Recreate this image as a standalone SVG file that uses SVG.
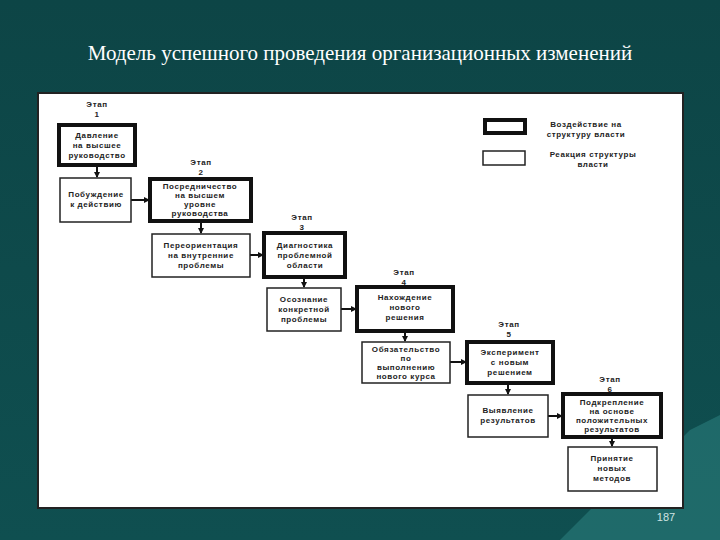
<svg xmlns="http://www.w3.org/2000/svg" width="720" height="540" viewBox="0 0 720 540">
<defs>
<linearGradient id="bg" x1="0" y1="0" x2="0" y2="1"><stop offset="0" stop-color="#0d4546"/><stop offset="1" stop-color="#0f4f50"/></linearGradient>
<marker id="ah" markerWidth="6" markerHeight="6" refX="5" refY="3" orient="auto" markerUnits="userSpaceOnUse"><path d="M0,0 L6,3 L0,6 Z" fill="#111"/></marker>
<style>
.thick{fill:#fff;stroke:#111;stroke-width:4}
.thin{fill:#fff;stroke:#222;stroke-width:1.5}
.t{font-family:"Liberation Sans",Arial,sans-serif;font-size:8px;font-weight:bold;fill:#222;text-anchor:middle;letter-spacing:0.6px}
.c{stroke:#111;stroke-width:2;fill:none;marker-end:url(#ah)}
</style>
</defs>
<rect width="720" height="540" fill="url(#bg)"/>
<path d="M560,540 L610,490 L650,470 L690,430 L720,415 L720,540 Z" fill="#2a7d7c" opacity="0.6"/>
<text x="360" y="60" font-family="Liberation Serif,Times New Roman,serif" font-size="21" fill="#fff" text-anchor="middle">Модель успешного проведения организационных изменений</text>
<rect x="38" y="93" width="645" height="415" fill="#fff" stroke="#222" stroke-width="2"/>
<g id="legend">
<rect x="485" y="120" width="40" height="13" class="thick" stroke-width="3"/>
<rect x="483" y="151" width="42" height="14" class="thin"/>
<text class="t" x="586" y="127">Воздействие на</text><text class="t" x="586" y="137">структуру власти</text>
<text class="t" x="593" y="157">Реакция структуры</text><text class="t" x="593" y="167">власти</text>
</g>
<g id="connectors">
<line class="c" x1="97" y1="165" x2="97" y2="177"/>
<line class="c" x1="131" y1="200" x2="149" y2="200"/>
<line class="c" x1="201" y1="221" x2="201" y2="233"/>
<line class="c" x1="250" y1="255" x2="263" y2="255"/>
<line class="c" x1="304" y1="277" x2="304" y2="287"/>
<line class="c" x1="341" y1="309" x2="356" y2="309"/>
<line class="c" x1="405" y1="331" x2="405" y2="341"/>
<line class="c" x1="450" y1="362" x2="466" y2="362"/>
<line class="c" x1="508" y1="383" x2="508" y2="394"/>
<line class="c" x1="548" y1="416" x2="562" y2="416"/>
<line class="c" x1="612" y1="437" x2="612" y2="446"/>
</g>
<g id="s1"><text class="t" x="97" y="107">Этап</text><text class="t" x="97" y="117">1</text>
<rect class="thick" x="59" y="125" width="76" height="40"/>
<text class="t" x="97" y="138">Давление</text><text class="t" x="97" y="148">на высшее</text><text class="t" x="97" y="158">руководство</text></g>
<g id="n1"><rect class="thin" x="60" y="178" width="71" height="44"/>
<text class="t" x="96" y="197">Побуждение</text><text class="t" x="96" y="207">к действию</text></g>
<g id="s2"><text class="t" x="201" y="165">Этап</text><text class="t" x="201" y="175">2</text>
<rect class="thick" x="150" y="179" width="101" height="42"/>
<text class="t" x="200" y="189">Посредничество</text><text class="t" x="200" y="198">на высшем</text><text class="t" x="200" y="207">уровне</text><text class="t" x="200" y="216">руководства</text></g>
<g id="n2"><rect class="thin" x="152" y="234" width="98" height="43"/>
<text class="t" x="201" y="248">Переориентация</text><text class="t" x="201" y="258">на внутренние</text><text class="t" x="201" y="268">проблемы</text></g>
<g id="s3"><text class="t" x="302" y="220">Этап</text><text class="t" x="302" y="230">3</text>
<rect class="thick" x="264" y="233" width="81" height="44"/>
<text class="t" x="305" y="248">Диагностика</text><text class="t" x="305" y="258">проблемной</text><text class="t" x="305" y="268">области</text></g>
<g id="n3"><rect class="thin" x="267" y="288" width="74" height="43"/>
<text class="t" x="304" y="302">Осознание</text><text class="t" x="304" y="312">конкретной</text><text class="t" x="304" y="322">проблемы</text></g>
<g id="s4"><text class="t" x="404" y="275">Этап</text><text class="t" x="404" y="285">4</text>
<rect class="thick" x="357" y="287" width="96" height="44"/>
<text class="t" x="405" y="300">Нахождение</text><text class="t" x="405" y="310">нового</text><text class="t" x="405" y="320">решения</text></g>
<g id="n4"><rect class="thin" x="362" y="342" width="88" height="41"/>
<text class="t" x="406" y="352">Обязательство</text><text class="t" x="406" y="361">по</text><text class="t" x="406" y="370">выполнению</text><text class="t" x="406" y="379">нового курса</text></g>
<g id="s5"><text class="t" x="509" y="327">Этап</text><text class="t" x="509" y="337">5</text>
<rect class="thick" x="467" y="342" width="86" height="41"/>
<text class="t" x="510" y="355">Эксперимент</text><text class="t" x="510" y="365">с новым</text><text class="t" x="510" y="375">решением</text></g>
<g id="n5"><rect class="thin" x="468" y="395" width="80" height="42"/>
<text class="t" x="508" y="413">Выявление</text><text class="t" x="508" y="423">результатов</text></g>
<g id="s6"><text class="t" x="610" y="382">Этап</text><text class="t" x="610" y="392">6</text>
<rect class="thick" x="563" y="394" width="98" height="43"/>
<text class="t" x="612" y="405">Подкрепление</text><text class="t" x="612" y="414">на основе</text><text class="t" x="612" y="423">положительных</text><text class="t" x="612" y="432">результатов</text></g>
<g id="n6"><rect class="thin" x="568" y="447" width="89" height="44"/>
<text class="t" x="612" y="461">Принятие</text><text class="t" x="612" y="471">новых</text><text class="t" x="612" y="481">методов</text></g>
<text x="666" y="521" font-family="Liberation Sans,Arial,sans-serif" font-size="11" fill="#cfe3e3" text-anchor="middle">187</text>
</svg>
